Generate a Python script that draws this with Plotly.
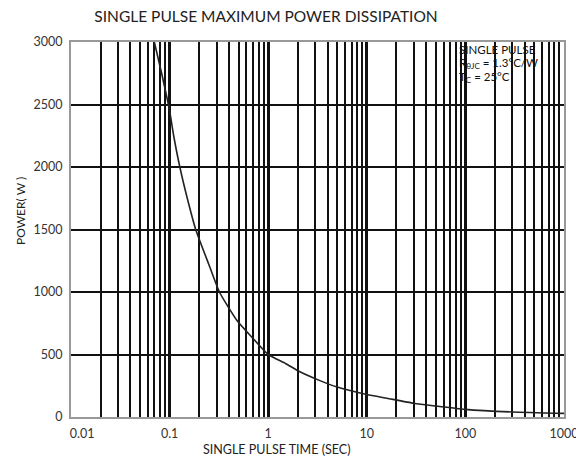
import plotly.graph_objects as go

# Curve (single pulse time in s, power in W)
pulse_time = [0.07, 0.083, 0.1, 0.11, 0.127, 0.15, 0.184, 0.25, 0.32, 0.48, 0.68, 1.0,
              1.5, 2.0, 3.3, 5.0, 10.0, 16.0, 30.0, 50.0, 100.0, 300.0, 1000.0]
power_w = [3000, 2750, 2450, 2250, 2000, 1760, 1500, 1220, 1000, 774, 640, 500,
           428, 370, 293, 240, 180, 150, 110, 88, 61, 40, 29]

x_tick_vals = [0.01, 0.1, 1, 10, 100, 1000]
x_tick_text = ["\u00a0\u00a0\u00a0\u00a0\u00a0\u00a0\u00a00.01", "0.1", "1", "10", "100", "1000"]
y_tick_vals = [0, 500, 1000, 1500, 2000, 2500, 3000]
y_tick_text = ["0", "500", "1000", "1500", "2000", "2500", "3000"]

note_lines = ["SINGLE PULSE", "R<sub>θJC</sub> = 1.3°C/W", "T<sub>C</sub> = 25°C"]

FONT = "Lato"
OFF = 8  # page body margin
W, H = 584 - OFF, 464 - OFF
L, R, T, B = 71 - OFF, 20, 42 - OFF, 47
PW, PH = W - L - R, H - T - B


def px_x(x):
    return (x - OFF - L) / PW


def px_y(y):
    return (H - B - (y - OFF)) / PH


fig = go.Figure()
fig.add_trace(go.Scatter(
    x=pulse_time, y=power_w, mode="lines",
    line=dict(color="#222222", width=1.6, shape="spline", smoothing=0.5),
    showlegend=False,
))

annotations = [
    dict(text="SINGLE PULSE TIME (SEC)", xref="paper", yref="paper",
         x=px_x(276), y=px_y(449), xanchor="center", yanchor="middle",
         showarrow=False, font=dict(family=FONT, size=12.5, color="#222222")),
    dict(text="POWER( W )", xref="paper", yref="paper", textangle=-90,
         x=px_x(20), y=px_y(211), xanchor="center", yanchor="middle",
         showarrow=False, font=dict(family=FONT, size=12, color="#222222")),
]
for i, line in enumerate(note_lines):
    annotations.append(dict(
        text=line, xref="paper", yref="paper",
        x=px_x(457), y=px_y(50 + 13.5 * i),
        xanchor="left", yanchor="middle", align="left", showarrow=False,
        font=dict(family=FONT, size=11.5, color="#111111"),
    ))

fig.update_layout(
    width=W, height=H,
    margin=dict(l=L, r=R, t=T, b=B, autoexpand=False),
    paper_bgcolor="white", plot_bgcolor="white",
    font=dict(family=FONT, color="#222222", size=12),
    title=dict(text="SINGLE PULSE MAXIMUM POWER DISSIPATION",
               x=(266 - OFF) / W, xanchor="center", y=1 - (17 - OFF) / H, yanchor="middle",
               font=dict(family=FONT, size=15.5, color="#222222")),
    annotations=annotations,
)

fig.update_xaxes(
    type="log", range=[-2, 3], automargin=False,
    tickvals=x_tick_vals, ticktext=x_tick_text,
    showgrid=True, gridcolor="#111111", gridwidth=3,
    minor=dict(dtick="D1", showgrid=True, gridcolor="#111111", gridwidth=1.8, ticks=""),
    showline=True, linecolor="#999999", linewidth=2, mirror=True,
    ticks="", ticklabelstandoff=4,
    tickfont=dict(size=12.5, family=FONT, color="#333333"),
    zeroline=False,
)
fig.update_yaxes(
    range=[0, 3000], automargin=False,
    tickvals=y_tick_vals, ticktext=y_tick_text,
    showgrid=True, gridcolor="#111111", gridwidth=1.8,
    showline=True, linecolor="#999999", linewidth=2, mirror=True,
    ticks="", ticklabelstandoff=4,
    tickfont=dict(size=12.5, family=FONT, color="#333333"),
    zeroline=False,
)

fig.write_html("out.html")
